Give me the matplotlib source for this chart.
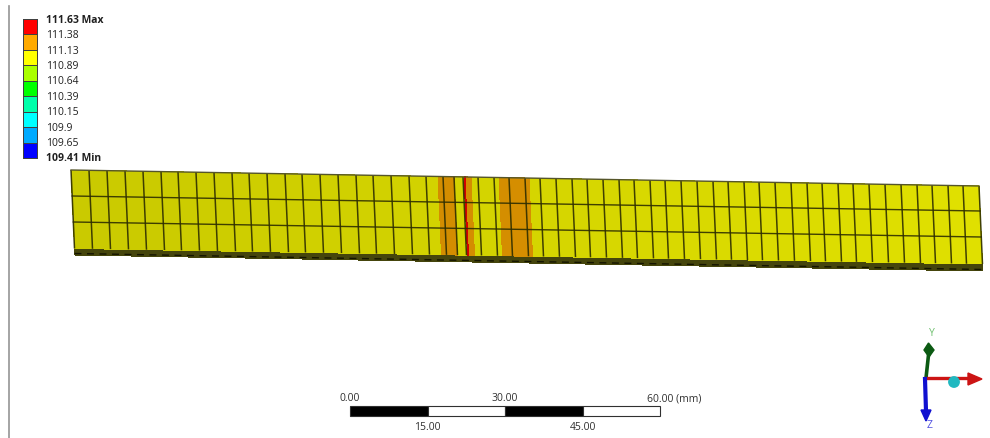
import numpy as np
import matplotlib
matplotlib.use("Agg")
import matplotlib.pyplot as plt
from matplotlib.colors import ListedColormap, BoundaryNorm
from matplotlib.collections import LineCollection
from matplotlib.patches import Circle, Polygon

plt.rcParams['font.family'] = ['Open Sans', 'DejaVu Sans']

# Legend
legend_labels = ["111.63 Max", "111.38", "111.13", "110.89", "110.64",
                 "110.39", "110.15", "109.9", "109.65", "109.41 Min"]
legend_levels = [111.63, 111.38, 111.13, 110.89, 110.64, 110.39, 110.15, 109.90, 109.65, 109.41]
legend_colors = ["#ff0000", "#ffaa00", "#ffff00", "#aaff00", "#00ff00",
                 "#00ffaa", "#00ffff", "#00aaff", "#0000ff"]

# Mesh: element edges along the top of the beam (image px)
column_edges = [71, 89, 107, 125, 143, 161, 178, 196, 214, 232, 249, 267, 285, 302, 320,
                338, 356, 373, 391, 409, 426, 443, 454, 463, 478, 494, 509, 525, 540, 556,
                572, 587, 603, 619, 634, 650, 665, 681, 697, 713, 728, 744, 759, 775, 791,
                807, 822, 838, 853, 869, 885, 901, 917, 932, 948, 963, 979]
# Temperature bands along the beam: (start, end, value)
band_starts = [71, 438, 455, 464, 466, 472, 499, 530]
band_ends = [438, 455, 464, 466, 472, 499, 530, 979]
band_values = [111.0, 111.25, 111.0, 111.5, 111.25, 111.0, 111.25, 111.0]

# Beam outline at its two ends (y of top, row lines, bottom, underside)
rows_left = [171, 197, 223, 249.5, 256]
rows_right = [187, 212, 238, 265, 272]
skew = 3.5
shade_left, shade_right = 0.79, 0.88

# Scale bar
scale_ticks = [0, 15, 30, 45, 60]
scale_texts = ["0.00", "15.00", "30.00", "45.00", "60.00 (mm)"]

fig = plt.figure(figsize=(9.9, 4.39), dpi=100)
ax = fig.add_axes([0, 0, 1, 1])
ax.set_xlim(0, 990)
ax.set_ylim(439, 0)
ax.axis("off")

ax.plot([8.5, 8.5], [7, 439], color="#959595", lw=1.2)

# Legend
levels_up = np.array(legend_levels[::-1])
cmap = ListedColormap(legend_colors[::-1])
norm = BoundaryNorm(levels_up, cmap.N)
leg_top, leg_bottom, leg_l, leg_r = 20.0, 159.0, 23.0, 37.0
leg_y = np.linspace(leg_top, leg_bottom, len(legend_levels))
mids = (np.array(legend_levels[:-1]) + np.array(legend_levels[1:])) / 2
ax.pcolormesh([leg_l, leg_r], leg_y, mids[:, None], cmap=cmap, norm=norm,
              edgecolors="#404040", linewidth=0.7, zorder=3)
for i, (y, t) in enumerate(zip(leg_y, legend_labels)):
    bold = i in (0, len(legend_labels) - 1)
    ax.text(46, y + (0.2 if i < 9 else -0.5), t, fontsize=7.5, va="center", ha="left",
            fontweight="bold" if bold else "normal", color="#202020")

# Beam
cols = np.array(column_edges, float)
x0, x1 = cols[0], cols[-1]


def row_y(r, x):
    return rows_left[r] + (rows_right[r] - rows_left[r]) * (x - x0) / (x1 - x0)


def pos_x(x, y, x_ref):
    return x + skew * (y - row_y(0, x_ref)) / (row_y(3, x_ref) - row_y(0, x_ref))


# Underside
uX = np.array([cols + skew, cols + skew])
uY = np.array([row_y(3, cols), row_y(4, cols)])
under = ax.pcolormesh(uX, uY, np.zeros((1, len(cols) - 1)), cmap=ListedColormap(["#45450c"]),
                      shading="flat", zorder=2)
under.set_snap(False)
ax.plot([x0 + skew, x1 + skew], [row_y(4, x0) - 1.5, row_y(4, x1) - 1.5], color="#141400",
        lw=1.0, ls=(0, (5, 4)), zorder=3)

strip = np.array(sorted(set(column_edges) | set(band_starts) | set(band_ends)), float)
mid = (strip[:-1] + strip[1:]) / 2
vals = np.array([band_values[np.searchsorted(band_ends, m)] for m in mid])
shade = shade_left + (shade_right - shade_left) * (mid - x0) / (x1 - x0)
rgba = cmap(norm(vals))
rgba[:, :3] *= shade[:, None]

Y = np.array([row_y(0, strip), row_y(3, strip)])
X = np.array([strip, strip + skew])
mesh = ax.pcolormesh(X, Y, rgba[None, :, :], shading="flat", zorder=2.5)
mesh.set_snap(False)

# Element lines
segs = [[(c, row_y(0, c)), (c + skew, row_y(3, c))] for c in cols]
ax.add_collection(LineCollection(segs, colors="#2e2e00", linewidths=1.1, alpha=0.9, zorder=4))
for r in (1, 2):
    ax.plot([pos_x(x0, row_y(r, x0), x0), pos_x(x1, row_y(r, x1), x1)],
            [row_y(r, x0), row_y(r, x1)], color="#2e2e00", lw=1.0, alpha=0.9, zorder=4)
ax.plot([x0, x1], [row_y(0, x0), row_y(0, x1)], color="#55552a", lw=1.0, zorder=4)

# Scale bar
mm = np.array(scale_ticks, float)
px = 350 + mm * (660 - 350) / 60
for i in range(len(mm) - 1):
    ax.bar(px[i], 10, width=px[i + 1] - px[i], bottom=407, align="edge",
           facecolor="black" if i % 2 == 0 else "white", edgecolor="#303030", linewidth=0.8)
for i, (p, t) in enumerate(zip(px, scale_texts)):
    if i == len(px) - 1:
        ax.text(p - 13, 399, t, fontsize=7.5, ha="left", va="center", color="#303030")
    elif i % 2 == 0:
        ax.text(p, 399, t, fontsize=7.5, ha="center", va="center", color="#303030")
    else:
        ax.text(p, 428, t, fontsize=7.5, ha="center", va="center", color="#303030")

# Triad
ax.plot([926, 928.5], [379, 356], color="#0b5a12", lw=2.6, zorder=5)
ax.add_patch(Polygon([(928.5, 344), (934, 351), (929, 358), (924, 351)], color="#0b5a12", zorder=5))
ax.plot([926, 969], [379, 379], color="#cc1414", lw=2.4, zorder=5)
ax.add_patch(Polygon([(982, 380), (968, 374), (968, 386)], color="#cc1414", zorder=5))
ax.plot([925, 926], [380, 412], color="#1010d0", lw=3.0, zorder=5)
ax.add_patch(Polygon([(926, 422), (921, 411), (931, 411)], color="#1010d0", zorder=5))
ax.add_patch(Circle((954, 383), 5.2, color="#20b8c0", zorder=6))
ax.text(932, 334, "Y", fontsize=7.5, color="#70c070", ha="center", va="center")
ax.text(930, 426, "Z", fontsize=7.5, color="#5050e0", ha="center", va="center")

fig.savefig("out.png", dpi=100)
